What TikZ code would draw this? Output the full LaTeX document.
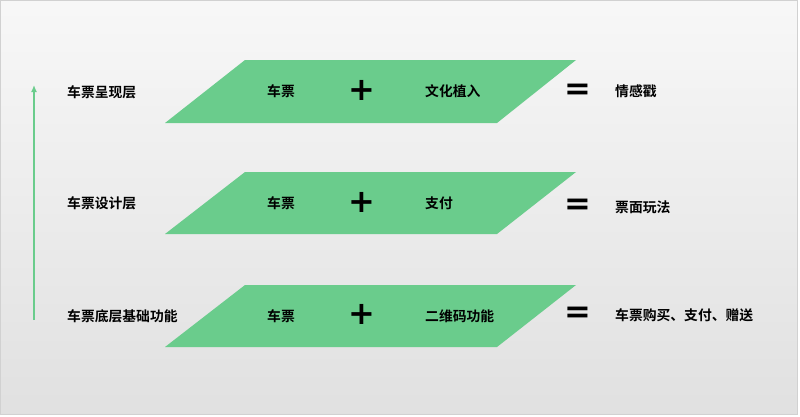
\documentclass[tikz,border=0pt]{standalone}
\usepackage{fontspec}
\newfontfamily\cjk{Noto Sans CJK SC Bold}
\newfontfamily\symb{DejaVu Sans Bold}
\usetikzlibrary{arrows.meta}
\definecolor{layergreen}{RGB}{106,204,140}

\tikzset{
  layer/.style={fill=layergreen},
  txt/.style={font=\cjk\fontsize{13.8}{14}\selectfont, inner sep=0pt, anchor=west},
  op/.style={font=\symb\fontsize{32}{33}\selectfont, inner sep=0pt}
}

\begin{document}
\begin{tikzpicture}[x=1pt,y=-1pt]
\useasboundingbox (0,0) rectangle (800,416);
\shade[shading=axis, shading angle=60, top color=white!97!black, bottom color=black!12,
          draw=black!18, line width=0.8pt] (0,0) rectangle (797,414);

% layers
\path[layer] (165,123) -- (245,60) -- (576,60) -- (497,123) -- cycle;
\path[layer] (165,234) -- (245,172) -- (576,172) -- (497,234) -- cycle;
\path[layer] (165,347) -- (245,285) -- (576,285) -- (497,347) -- cycle;

% arrow
\coordinate (up0) at (34,320);
\coordinate (up1) at (34,85);
\draw[layergreen, line width=1.3pt, -{Latex[length=7pt,width=6pt]}] (up0) -- (up1);

% left labels
\node[txt] (show) at (67,92) {车票呈现层};
\node[txt] (design) at (67,203) {车票设计层};
\node[txt] (base) at (67,316) {车票底层基础功能};

% top layer
\node[txt] (t1) at (267,91) {车票};
\node[op] (p1) at (362,90) {+};
\node[txt] (c1) at (425,91) {文化植入};
\node[op] (e1) at (578,92) {=};
\node[txt] (r1) at (615,91) {情感戳};

% middle layer
\node[txt] (t2) at (267,203) {车票};
\node[op] (p2) at (362,202) {+};
\node[txt] (c2) at (425,203) {支付};
\node[op] (e2) at (578,207) {=};
\node[txt] (r2) at (615,207) {票面玩法};

% bottom layer
\node[txt] (t3) at (267,316) {车票};
\node[op] (p3) at (362,314) {+};
\node[txt] (c3) at (425,316) {二维码功能};
\node[op] (e3) at (578,315) {=};
\node[txt] (r3) at (615,315) {车票购买、支付、赠送};
\end{tikzpicture}
\end{document}
